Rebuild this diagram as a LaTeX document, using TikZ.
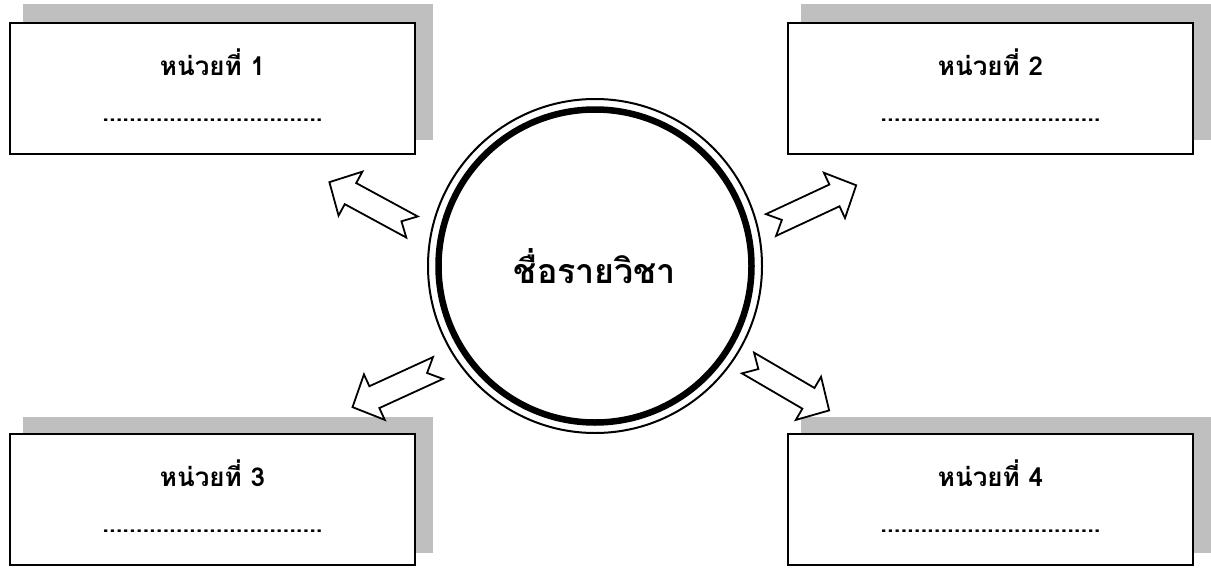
\documentclass[tikz,border=0pt]{standalone}
\usepackage{fontspec}
\newfontfamily\thai[Script=Thai]{Loma}
\usetikzlibrary{calc}
\definecolor{shadowgray}{HTML}{BFBFBF}
\tikzset{
  unitbox/.style={draw=black, line width=2pt, fill=white, minimum width=405pt, minimum height=131pt, inner sep=0pt},
  shadowbox/.style={fill=shadowgray, minimum width=410pt, minimum height=136pt, inner sep=0pt},
  titletext/.style={font=\thai\bfseries\fontsize{26}{30}\selectfont, inner sep=0pt},
  dotstext/.style={font=\thai\bfseries\fontsize{24}{28}\selectfont, inner sep=0pt},
  centertext/.style={font=\thai\bfseries\fontsize{34}{38}\selectfont, inner sep=0pt},
  blockarrow/.pic={\draw[line width=1.8pt, fill=white, line join=miter]
     (0,12) -- (12,0) -- (0,-12) -- (70,-12) -- (70,-25) -- (94,0) -- (70,25) -- (70,12) -- cycle;}
}
\begin{document}
\begin{tikzpicture}[x=1pt,y=-1pt]
\fill[white] (0,0) rectangle (1211,568);
\useasboundingbox (0,0) rectangle (1211,568);
% shadows
\node[shadowbox] (s1) at (228,72) {};
\node[shadowbox] (s2) at (1006,72) {};
\node[shadowbox] (s3) at (228,484.5) {};
\node[shadowbox] (s4) at (1006,484.5) {};
% boxes
\node[unitbox] (b1) at (212.5,88.5) {};
\node[unitbox] (b2) at (990.5,88.5) {};
\node[unitbox] (b3) at (212.5,499.5) {};
\node[unitbox] (b4) at (990.5,499.5) {};
\foreach \b/\n in {b1/1,b2/2,b3/3,b4/4}{
  \node[titletext] (\b t) at ($(\b.north)+(0,40)$) {หน่วยที่ \n};
  \node[dotstext] (\b d) at ($(\b.north)+(0,98)$) {.................................};
}
% circle
\node[circle, draw=black, line width=2pt, minimum size=334pt, inner sep=0pt] (c) at (595,266) {};
\node[circle, draw=black, line width=6.5pt, minimum size=313pt, inner sep=0pt] (ci) at (595,266) {};
\node[centertext] (ct) at (595,266) {ชื่อรายวิชา};
% arrows
\pic[rotate=151.5] at (412,227) {blockarrow};
\pic[rotate=25] at (771,225) {blockarrow};
\pic[rotate=204.6] at (438,368) {blockarrow};
\pic[rotate=-30.3] at (748,363) {blockarrow};
\end{tikzpicture}
\end{document}
